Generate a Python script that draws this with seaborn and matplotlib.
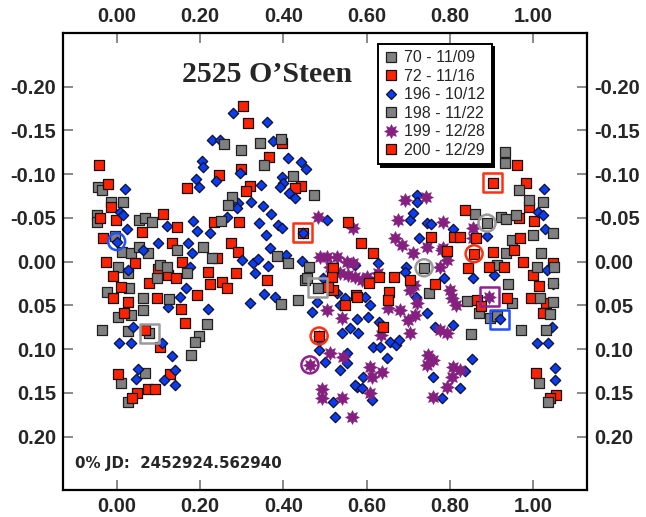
import matplotlib
matplotlib.use("Agg")
import matplotlib.pyplot as plt
import numpy as np
import pandas as pd
import seaborn as sns
from matplotlib.lines import Line2D
from matplotlib.path import Path

sns.set_style("white")
plt.rcParams["font.family"] = ["Liberation Sans", "DejaVu Sans"]

# ---------------------------------------------------------------- data
# session 70 - 11/09
s70_phase = [-0.045, -0.035, -0.014, 0.015, -0.047, -0.047, 0.054, 0.068, -0.004, 0.013,
             0.034, 0.054, 0.075, 0.003, 0.027, -0.023, 0.030, 0.063, 0.003, 0.034,
             0.063, -0.035, 0.027, 0.078, 0.010, 0.068, 0.027, 0.750, 0.738, 0.932,
             0.932, 0.860, 0.889, 0.922, 0.935, 0.949, 0.935, 0.913, 0.940, 0.841,
             0.949, 0.870, 0.896, 0.850, 0.913]
s70_mag = [-0.085, -0.082, -0.068, -0.068, -0.053, -0.045, -0.048, -0.050, -0.029, -0.011,
           -0.010, -0.017, -0.010, 0.006, 0.013, 0.035, 0.030, 0.041, 0.063, 0.061,
           0.055, 0.078, 0.079, 0.082, 0.139, 0.127, 0.160, 0.036, 0.007, -0.125,
           -0.113, -0.054, -0.044, -0.051, -0.049, -0.025, -0.010, 0.004, 0.025, 0.045,
           0.047, 0.059, 0.064, 0.083, 0.062]

# session 72 - 11/16
s72_phase = [-0.042, -0.021, -0.014, -0.040, -0.002, 0.111, 0.061, 0.145, 0.234, 0.294,
             0.447, 0.303, 0.315, 0.397, 0.366, 0.298, 0.246, 0.169, 0.320, 0.311,
             0.442, 0.428, -0.033, 0.132, 0.274, 0.291, 0.240, -0.025, 0.044, 0.099,
             0.157, -0.009, 0.123, 0.142, 0.219, 0.286, 0.360, 0.010, 0.077, 0.224,
             0.253, 0.265, -0.009, 0.027, 0.097, 0.193, 0.018, 0.154, 0.164, 0.068,
             0.104, 0.003, 0.128, 0.075, 0.092, 0.049, 0.037, 0.930, 0.968, 0.953,
             0.975, 1.047, 0.937, 0.994, 1.030, 1.023, 1.013, 0.999, 1.006, 1.054,
             1.040, 0.961, 0.982, 0.990, 0.966, 1.002]
s72_mag = [-0.111, -0.089, -0.063, -0.050, -0.048, -0.054, -0.034, -0.040, -0.045, -0.045,
           -0.033, -0.178, -0.158, -0.136, -0.120, -0.106, -0.099, -0.084, -0.086, -0.081,
           -0.086, -0.084, -0.027, -0.021, -0.021, -0.011, -0.004, 0.000, 0.001, 0.008,
           0.000, 0.016, 0.015, 0.019, 0.012, 0.013, 0.021, 0.029, 0.024, 0.025,
           0.023, 0.030, 0.041, 0.046, 0.041, 0.038, 0.059, 0.054, 0.070, 0.078,
           0.097, 0.128, 0.128, 0.146, 0.146, 0.150, 0.156, 0.006, -0.027, -0.013,
           0.000, 0.002, 0.041, 0.042, 0.047, 0.059, 0.028, 0.015, 0.127, 0.152,
           0.156, -0.111, -0.090, -0.062, -0.050, -0.047]

# session 196 - 10/12
s196_phase = [0.020, 0.008, 0.015, 0.024, 0.121, 0.184, 0.193, 0.224, 0.265, 0.342,
              0.358, 0.387, 0.397, 0.505, 0.279, 0.361, 0.229, 0.248, 0.375, 0.411,
              0.205, 0.208, 0.296, 0.442, 0.454, 0.190, 0.198, 0.238, 0.397, 0.399,
              0.392, 0.346, 0.413, 0.428, 0.291, 0.289, 0.322, 0.351, 0.370, 0.063,
              0.099, 0.171, 0.181, 0.301, 0.027, 0.176, 0.327, 0.339, 0.332, 0.363,
              0.368, 0.406, 0.445, 0.495, 0.167, 0.152, 0.320, 0.354, 0.380, 0.123,
              0.219, 0.039, 0.006, 0.034, 0.109, 0.133, 0.051, 0.047, 0.140, 0.114,
              0.140, 0.000, 0.481, 0.469, 0.529, 0.548, 0.541, 0.560, 0.577, 0.486,
              0.500, 0.536, 0.553, 0.577, 0.519, 0.524, 0.721, 0.721, 0.704, 0.711,
              0.745, 0.755, 0.807, 0.726, 0.889, 0.906, 1.026, 1.012, 1.024, 1.028,
              0.572, 0.694, 0.692, 0.627, 0.786, 0.856, 0.718, 0.596, 0.608, 0.536,
              0.920, 0.603, 0.630, 0.744, 0.764, 0.807, 0.580, 0.488, 0.486, 0.615,
              0.632, 0.656, 0.670, 0.677, 0.553, 0.649, 0.591, 0.572, 0.589, 0.853,
              0.760, 0.824, 0.836, 0.613, 0.781, 1.008, 1.035, 1.052, 1.052, 1.033,
              1.047, 1.045, 0.447]
s196_mag = [-0.083, -0.057, -0.053, -0.037, -0.041, -0.046, -0.035, -0.033, -0.051, -0.044,
            -0.031, -0.042, -0.039, -0.048, -0.170, -0.160, -0.139, -0.139, -0.138, -0.118,
            -0.115, -0.108, -0.101, -0.114, -0.106, -0.095, -0.085, -0.092, -0.097, -0.090,
            -0.085, -0.088, -0.079, -0.073, -0.067, -0.061, -0.068, -0.064, -0.054, -0.013,
            -0.021, -0.021, -0.010, -0.002, 0.009, 0.006, 0.002, -0.003, 0.013, 0.005,
            -0.016, -0.008, -0.001, 0.019, 0.030, 0.040, 0.047, 0.037, 0.040, 0.052,
            0.054, 0.075, 0.093, 0.093, 0.093, 0.108, 0.123, 0.134, 0.124, 0.135,
            0.141, -0.023, 0.046, 0.058, 0.036, 0.042, 0.082, 0.076, 0.065, 0.085,
            0.115, 0.124, 0.116, 0.143, 0.160, 0.177, -0.076, -0.068, -0.048, -0.056,
            -0.044, -0.043, -0.037, -0.027, -0.029, 0.015, -0.083, -0.057, -0.053, -0.037,
            0.004, 0.006, 0.012, 0.002, 0.019, 0.019, 0.040, 0.040, 0.050, 0.050,
            0.066, 0.063, 0.069, 0.059, 0.075, 0.072, 0.082, 0.089, 0.101, 0.097,
            0.097, 0.092, 0.095, 0.089, 0.104, 0.110, 0.132, 0.141, 0.144, 0.111,
            0.132, 0.144, 0.125, 0.158, 0.156, 0.093, 0.093, 0.122, 0.135, 0.009,
            0.026, 0.075, -0.033]

# session 198 - 11/22
s198_phase = [0.085, 0.250, 0.258, 0.298, 0.344, 0.394, 0.354, 0.423, 0.474, 0.277,
              0.267, 0.145, 0.207, 0.229, 0.104, 0.121, 0.097, 0.169, 0.384, 0.411,
              0.462, 0.452, 0.483, 0.126, 0.394, 0.435, 0.217, 0.198, 0.188, 0.179,
              0.457, 0.966, 0.990, 1.023, 0.959, 1.047, 0.999, 1.018, 1.008, 1.049,
              1.047, 1.016, 1.047, 1.040, 0.970, 1.030, 1.014, 1.035]
s198_mag = [-0.045, -0.046, -0.134, -0.128, -0.136, -0.140, -0.111, -0.098, -0.076, -0.074,
            -0.065, -0.013, -0.017, -0.004, 0.004, 0.006, 0.019, 0.013, -0.007, 0.001,
            0.006, 0.021, 0.030, 0.043, 0.048, 0.044, 0.071, 0.085, 0.092, 0.107,
            0.019, -0.082, -0.071, -0.068, -0.053, -0.033, -0.031, -0.010, 0.006, 0.006,
            0.024, 0.042, 0.046, 0.060, 0.078, 0.078, 0.139, 0.160]

# session 199 - 12/28
s199_phase = [0.484, 0.567, 0.505, 0.529, 0.553, 0.567, 0.536, 0.555, 0.572, 0.505,
              0.541, 0.512, 0.543, 0.493, 0.493, 0.541, 0.565, 0.464, 0.692, 0.742,
              0.676, 0.783, 0.856, 0.668, 0.685, 0.784, 0.856, 0.711, 0.745, 0.781,
              0.627, 0.601, 0.776, 0.793, 0.589, 0.713, 0.800, 0.805, 0.704, 0.721,
              0.894, 0.651, 0.680, 0.699, 0.716, 0.776, 0.793, 0.814, 0.634, 0.704,
              0.608, 0.637, 0.613, 0.747, 0.759, 0.745, 0.807, 0.824, 0.805, 0.793,
              0.608, 0.759, 0.488, 0.512]
s199_mag = [-0.051, -0.038, -0.005, -0.005, 0.000, 0.002, 0.013, 0.015, 0.018, 0.055,
            0.064, 0.104, 0.109, 0.145, 0.156, 0.156, 0.177, 0.118, -0.070, -0.074,
            -0.048, -0.045, -0.039, -0.027, -0.019, -0.016, -0.027, -0.010, -0.017, -0.013,
            0.013, 0.018, 0.006, -0.002, 0.021, 0.027, 0.032, 0.041, 0.032, 0.047,
            0.040, 0.053, 0.055, 0.067, 0.061, 0.078, 0.082, 0.050, 0.084, 0.082,
            0.120, 0.126, 0.132, 0.107, 0.112, 0.118, 0.120, 0.124, 0.132, 0.143,
            0.150, 0.155, -0.005, 0.006]

# session 200 - 12/29
s200_phase = [0.555, 0.486, 0.520, 0.517, 0.520, 0.548, 0.574, 0.587, 0.615, 0.755,
              0.793, 0.810, 0.824, 0.862, 0.858, 0.903, 0.843, 0.893, 0.666, 0.704,
              0.764, 0.507, 0.606, 0.630, 0.654, 0.651, 0.577, 0.864, 0.874, 0.639,
              0.903, 0.836]
s200_mag = [-0.045, 0.085, 0.007, 0.018, 0.032, 0.050, 0.038, -0.021, -0.010, -0.028,
            -0.012, -0.028, -0.028, -0.027, -0.009, -0.011, 0.007, 0.006, 0.018, 0.021,
            0.026, 0.029, 0.024, 0.018, 0.035, 0.044, 0.040, 0.044, 0.051, 0.075,
            -0.090, -0.059]

# first / last observation of each session
mark_phase = [0.000, 0.920, 0.078, 0.483, 0.447, 0.486, 0.738, 0.889, 0.903, 0.858, 0.464, 0.894]
mark_mag = [-0.023, 0.066, 0.082, 0.030, -0.033, 0.085, 0.007, -0.044, -0.090, -0.009, 0.118, 0.040]
mark_session = ["196", "196", "70", "198", "72", "200", "70", "198", "200", "72", "199", "199"]
mark_kind = ["first", "last", "last", "last", "last", "first", "first", "first", "last", "first", "first", "last"]

x_ticks = [0.0, 0.2, 0.4, 0.6, 0.8, 1.0]
y_ticks = [-0.20, -0.15, -0.10, -0.05, 0.00, 0.05, 0.10, 0.15, 0.20]

# ---------------------------------------------------------------- styles
GRAY, RED, BLUE, PURPLE = "#808080", "#ff2200", "#0a3cf0", "#862080"
burst = Path.unit_regular_star(8, innerCircle=0.55)

sessions = [
    ("70 - 11/09", "70", s70_phase, s70_mag, "s", GRAY, "#202020", 58),
    ("72 - 11/16", "72", s72_phase, s72_mag, "s", RED, "#101010", 58),
    ("196 - 10/12", "196", s196_phase, s196_mag, "D", BLUE, "#101030", 28),
    ("198 - 11/22", "198", s198_phase, s198_mag, "s", GRAY, "#202020", 58),
    ("199 - 12/28", "199", s199_phase, s199_mag, burst, PURPLE, PURPLE, 95),
    ("200 - 12/29", "200", s200_phase, s200_mag, "s", RED, "#101010", 58),
]
ring_colors = {"70": "#9a9a9a", "198": "#9a9a9a", "72": "#ff3010", "200": "#ff3010",
               "196": "#2050ff", "199": "#902090"}

frames = []
for label, key, ph, mg, *_ in sessions:
    frames.append(pd.DataFrame({"phase": ph, "mag": mg, "session": label}))
data = pd.concat(frames, ignore_index=True)

# ---------------------------------------------------------------- figure
fig = plt.figure(figsize=(6.46, 5.17), dpi=100)
ax = fig.add_axes([63.3 / 646, 27 / 517, 523.7 / 646, 456.7 / 517])

for z, (label, key, ph, mg, mk, fc, ec, size) in enumerate(sessions):
    sub = data[data["session"] == label]
    sns.scatterplot(data=sub, x="phase", y="mag", ax=ax, marker=mk, s=size,
                    color=fc, edgecolor=ec, linewidth=0.9 if mk != burst else 0.6,
                    legend=False, zorder=3 + z)

marks = pd.DataFrame({"phase": mark_phase, "mag": mark_mag,
                      "session": mark_session, "kind": mark_kind})
for _, row in marks.iterrows():
    first = row["kind"] == "first"
    ax.scatter(row["phase"], row["mag"], s=150 if first else 185,
               marker="o" if first else "s",
               facecolors="none", edgecolors=ring_colors[row["session"]],
               linewidths=1.8, zorder=20)

ax.set_xlim(-0.128, 1.129)
ax.set_ylim(0.261, -0.261)
ax.set_xlabel("")
ax.set_ylabel("")
ax.set_xticks(x_ticks)
ax.set_yticks(y_ticks)
ax.set_xticklabels([f"{v:.2f}" for v in x_ticks])
ax.set_yticklabels([f"{v:.2f}" for v in y_ticks])
ax.tick_params(axis="both", which="both", direction="in", length=7, width=1.1,
               color="#6a6a6a", labelsize=14.5, pad=5,
               top=True, bottom=True, left=True, right=True,
               labeltop=True, labelbottom=True, labelleft=True, labelright=True)
for t in ax.get_xticklabels() + ax.get_yticklabels():
    t.set_fontweight("bold")
for sp in ax.spines.values():
    sp.set_color("black")
    sp.set_linewidth(1.6)
ax.grid(False)

ax.text(0.389, 0.894, "2525 O\u2019Steen", transform=ax.transAxes, ha="center",
        va="baseline", fontsize=21.5, fontweight="bold", family="Liberation Serif",
        zorder=30)
ax.text(0.0223, 0.0475, "0% JD:  2452924.562940", transform=ax.transAxes,
        ha="left", va="baseline", fontsize=10.8, fontweight="bold",
        family="DejaVu Sans", zorder=30)

handles = []
for label, key, ph, mg, mk, fc, ec, size in sessions:
    handles.append(Line2D([], [], ls="", marker=mk, markersize=np.sqrt(size),
                          markerfacecolor=fc, markeredgecolor=ec,
                          markeredgewidth=0.9 if mk != burst else 0.6))
leg = ax.legend(handles, [s[0] for s in sessions], loc="upper left",
                bbox_to_anchor=((378 - 63.3) / 523.7, (490 - 44) / 456.7),
                borderaxespad=0, frameon=True, fancybox=False,
                shadow={"color": "black", "alpha": 1.0},
                fontsize=11.5, handlelength=0.8, handletextpad=0.45,
                borderpad=0.4, labelspacing=0.22)
leg.get_frame().set_edgecolor("black")
leg.get_frame().set_linewidth(1.4)
leg.set_zorder(40)

fig.savefig("out.png", dpi=100)
